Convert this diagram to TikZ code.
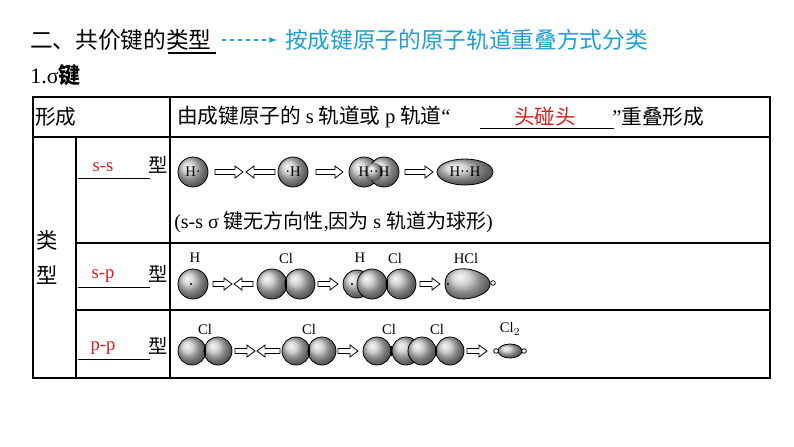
\documentclass[tikz,border=0pt]{standalone}
\usepackage{fontspec}
\setmainfont{Liberation Serif}
\newfontfamily\cjk{Noto Sans CJK SC}
\begin{document}
\begin{tikzpicture}[x=0.75pt,y=-0.75pt,
  ball/.style={shading=ball,ball color=gray!45,draw=black,line width=0.6pt},
  lbl/.style={font=\fontsize{11}{13}\selectfont,inner sep=0},
  tx/.style={font=\cjk\fontsize{15.5}{17}\selectfont,inner sep=0,anchor=west},
  grid/.style={line width=0.8pt}]
\useasboundingbox (0,0) rectangle (794,447);
\fill[white] (0,0) rectangle (794,447);
\def\rarr#1#2#3{\draw[fill=white,line width=0.6pt] (#1,#3-2.5)--(#2-8,#3-2.5)--(#2-8,#3-6)--(#2,#3)--(#2-8,#3+6)--(#2-8,#3+2.5)--(#1,#3+2.5)--cycle;}
\def\larr#1#2#3{\draw[fill=white,line width=0.6pt] (#2,#3-2.5)--(#1+8,#3-2.5)--(#1+8,#3-6)--(#1,#3)--(#1+8,#3+6)--(#1+8,#3+2.5)--(#2,#3+2.5)--cycle;}
% header
\node[tx,font=\cjk\fontsize{17}{19}\selectfont] (h1) at (30,40) {二、共价键的类型};
\draw[line width=0.8pt] (168,53)--(216,53);
\node[tx,font=\cjk\fontsize{17}{19}\selectfont,text={rgb,255:red,30;green,160;blue,215}] (h2) at (285,40) {按成键原子的原子轨道重叠方式分类};
\draw[dashed,-latex,line width=1pt,draw={rgb,255:red,30;green,160;blue,215}] (222,40)--(277,40);
\node[tx,font=\fontsize{16.5}{19}\selectfont] (h3) at (30,75) {1.σ\cjk\bfseries 键};
% table
\draw[line width=2pt] (33,97) rectangle (770,378);
\draw[grid] (33,137)--(770,137) (170,97)--(170,378) (76,137)--(76,378)
  (76,243)--(770,243) (76,310)--(770,310);
\node[tx] (f) at (35,117) {形成};
\node[tx] (r1) at (177,117) {由成键原子的 \fontspec{Liberation Serif}s\cjk{} 轨道或 \fontspec{Liberation Serif}p\cjk{} 轨道\fontspec{Liberation Serif}“};
\node[tx] (r2) at (612,117) {\fontspec{Liberation Serif}”\cjk 重叠形成};
\draw[line width=0.6pt] (480,128)--(614,128);
\node[tx,anchor=center,text={rgb,255:red,215;green,30;blue,30}] (a) at (545,117) {头碰头};
\node[tx,anchor=center,font=\cjk\fontsize{16}{17}\selectfont] (l1) at (47,240) {类};
\node[tx,anchor=center,font=\cjk\fontsize{16}{17}\selectfont] (l2) at (47,275) {型};
\foreach \t/\y in {s-s/167,s-p/276,p-p/348}{
  \node[tx,anchor=center,font=\fontsize{14}{16}\selectfont,text={rgb,255:red,215;green,30;blue,30}] at (103,\y) {\t};
  \draw[line width=0.6pt] (78,\y+11)--(150,\y+11);
  \node[tx,anchor=center,font=\cjk\fontsize{14.5}{16}\selectfont] at (158,\y-2) {型};}
% row1
\shade[ball] (193,172) circle (15); \node[lbl] at (193,172) {H·};
\rarr{215}{243}{172} \larr{246}{275}{172}
\shade[ball] (293,172) circle (15); \node[lbl] at (293,172) {·H};
\rarr{316}{343}{172}
\shade[ball] (364,172) circle (15); \shade[ball] (384,172) circle (15);
\shade[shading=ball,ball color=gray!45] (374,172) circle (9);
\node[lbl] at (374,172) {H··H};
\rarr{405}{433}{172}
\shade[ball] (465,172) ellipse (28 and 13); \node[lbl] at (465,172) {H··H};
\node[tx,font=\cjk\fontsize{15}{16}\selectfont] (n) at (174,222) {\fontspec{Liberation Serif}(s-s σ \cjk 键无方向性\fontspec{Liberation Serif},\cjk 因为 \fontspec{Liberation Serif}s \cjk 轨道为球形\fontspec{Liberation Serif})};
% row2
\node[lbl] at (195,258) {H};
\shade[ball] (193,284) circle (15); \fill (191,284) circle (1.2);
\rarr{213}{232}{284} \larr{234}{253}{284}
\shade[ball] (272,284) circle (15); \shade[ball] (300,284) circle (15);
\draw[line width=1.2pt] (286,279)--(286,289);
\node[lbl] at (286,258) {Cl};
\rarr{318}{338}{284}
\shade[ball] (357,284) circle (14); \shade[ball] (372,284) circle (15);
\shade[ball] (401,284) circle (15); \fill (352,284) circle (1.2);
\draw[line width=1.2pt] (387,279)--(387,289);
\node[lbl] at (360,258) {H}; \node[lbl] at (395,258) {Cl};
\rarr{420}{440}{284}
\shade[ball] (445,284) .. controls (445,265) and (470,266) .. (484,275) .. controls (492,280) and (492,288) .. (484,293) .. controls (470,302) and (445,302) .. (445,284);
\fill (448,284) circle (1.2);
\draw[fill=white,line width=0.6pt] (493,283) circle (2.3);
\node[lbl] at (466,258) {HCl};
% row3
\foreach \c in {205,309}{
  \shade[ball] (\c-13,351) circle (14); \shade[ball] (\c+13,351) circle (14);
  \draw[line width=1.2pt] (\c,346)--(\c,356);
  \node[lbl] at (\c,329) {Cl};}
\rarr{235}{255}{351} \larr{257}{280}{351}
\rarr{338}{358}{351}
\shade[ball] (406,351) circle (14); \shade[ball] (422,351) circle (14);
\shade[ball] (377,351) circle (14); \shade[ball] (450,351) circle (14);
\draw[line width=1.2pt] (391,346)--(391,356) (436,346)--(436,356);
\node[lbl] at (389,329) {Cl}; \node[lbl] at (437,329) {Cl};
\rarr{467}{487}{351}
\shade[ball] (510,351) ellipse (12 and 7);
\draw[fill=white,line width=0.6pt] (496,351) circle (2.3) (524,351) circle (2.3);
\node[lbl] at (510,329) {Cl$_2$};
\end{tikzpicture}
\end{document}
